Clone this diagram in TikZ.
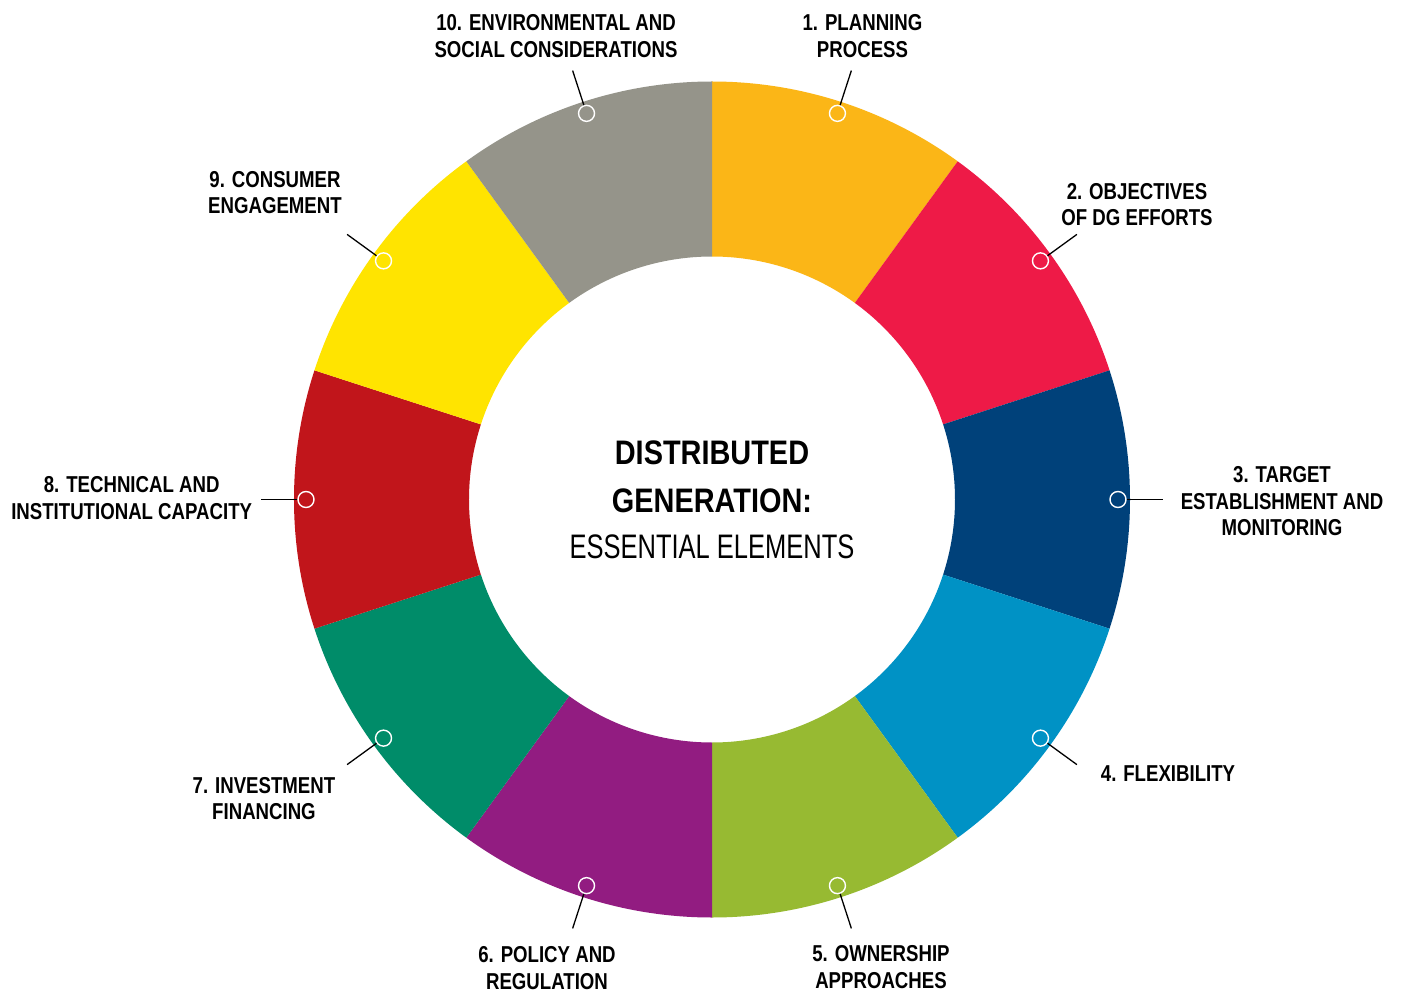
\documentclass[tikz,border=0pt]{standalone}
\usepackage{fontspec}
\newfontfamily\lblfont{Liberation Sans}[FakeStretch=0.81]
\newfontfamily\ctrfont{Liberation Sans}[FakeStretch=0.85]
\newfontfamily\ctrlight{Liberation Sans}[FakeStretch=0.75]
\definecolor{c1}{HTML}{FBB617}
\definecolor{c2}{HTML}{EE1A47}
\definecolor{c3}{HTML}{00417A}
\definecolor{c4}{HTML}{0092C5}
\definecolor{c5}{HTML}{97BA32}
\definecolor{c6}{HTML}{921C81}
\definecolor{c7}{HTML}{008C69}
\definecolor{c8}{HTML}{C1151B}
\definecolor{c9}{HTML}{FFE400}
\definecolor{c10}{HTML}{95948A}
\tikzset{
  marker/.style={circle, draw=white, line width=1.4pt, minimum size=16pt, inner sep=0pt},
  leader/.style={draw=black, line width=1.3pt},
  lbl/.style={anchor=base, inner sep=0pt, font=\lblfont\bfseries\fontsize{23}{26.5}\selectfont},
  ctr/.style={anchor=base, inner sep=0pt}
}
\begin{document}
\begin{tikzpicture}[x=1pt,y=1pt]
\useasboundingbox (-712,-496.5) rectangle (693,499.5);
\fill[white] (-712,-496.5) rectangle (693,499.5);
% ring segments
\foreach \i in {1,...,10}{
  \pgfmathsetmacro\a{90-36*(\i-1)}
  \pgfmathsetmacro\b{\a-36}
  \fill[c\i] (\a:418) arc[start angle=\a, end angle=\b, radius=418]
    -- (\b:243) arc[start angle=\b, end angle=\a, radius=243] -- cycle;
}
% markers and leaders
\foreach \i in {1,...,10}{
  \pgfmathsetmacro\m{72-36*(\i-1)}
  \node[marker] (m\i) at (\m:406) {};
  \coordinate (e\i) at (\m:451);
  \draw[leader] (m\i) -- (e\i);
}
% labels
\node[lbl] (l1) at (150.5,468.5) {\begin{tabular}[t]{@{}c@{}}1. PLANNING\\PROCESS\end{tabular}};
\node[lbl] (l2) at (425,300.2) {\begin{tabular}[t]{@{}c@{}}2. OBJECTIVES\\OF DG EFFORTS\end{tabular}};
\node[lbl] (l3) at (570,16.8) {\begin{tabular}[t]{@{}c@{}}3. TARGET\\ESTABLISHMENT AND\\MONITORING\end{tabular}};
\node[lbl] (l4) at (456,-282.2) {\begin{tabular}[t]{@{}c@{}}4. FLEXIBILITY\end{tabular}};
\node[lbl] (l5) at (169,-462.2) {\begin{tabular}[t]{@{}c@{}}5. OWNERSHIP\\APPROACHES\end{tabular}};
\node[lbl] (l6) at (-165,-463.2) {\begin{tabular}[t]{@{}c@{}}6. POLICY AND\\REGULATION\end{tabular}};
\node[lbl] (l7) at (-448,-293.5) {\begin{tabular}[t]{@{}c@{}}7. INVESTMENT\\FINANCING\end{tabular}};
\node[lbl] (l8) at (-580.3,6.8) {\begin{tabular}[t]{@{}c@{}}8. TECHNICAL AND\\INSTITUTIONAL CAPACITY\end{tabular}};
\node[lbl] (l9) at (-437,312.2) {\begin{tabular}[t]{@{}c@{}}9. CONSUMER\\ENGAGEMENT\end{tabular}};
\node[lbl] (l10) at (-156,468.5) {\begin{tabular}[t]{@{}c@{}}10. ENVIRONMENTAL AND\\SOCIAL CONSIDERATIONS\end{tabular}};
% center title
\node[ctr] (t1) at (0,35.2) {\ctrfont\bfseries\fontsize{34}{40}\selectfont DISTRIBUTED};
\node[ctr] (t2) at (0,-12.8) {\ctrfont\bfseries\fontsize{34}{40}\selectfont GENERATION:};
\node[ctr] (t3) at (0,-58.8) {\ctrlight\fontsize{34}{40}\selectfont ESSENTIAL ELEMENTS};
\end{tikzpicture}
\end{document}
